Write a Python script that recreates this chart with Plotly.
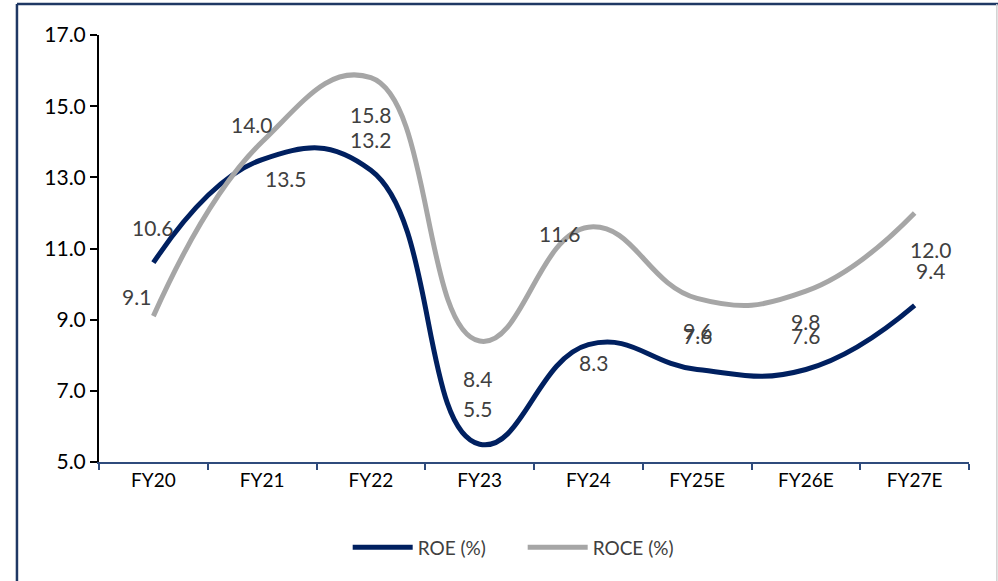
import plotly.graph_objects as go

categories = ["FY20", "FY21", "FY22", "FY23", "FY24", "FY25E", "FY26E", "FY27E"]
roe = [10.6, 13.5, 13.2, 5.5, 8.3, 7.6, 7.6, 9.4]
roce = [9.1, 14.0, 15.8, 8.4, 11.6, 9.6, 9.8, 12.0]
y_ticks = [5.0, 7.0, 9.0, 11.0, 13.0, 15.0, 17.0]

NAVY = "#002060"
GREY = "#A6A6A6"
LABEL_COLOR = "#404040"
FONT = "Lato"

# label offsets (px) for data labels, as placed in the reference
roce_off = [(-17, 20), (-10, 17), (0, -37), (-2, -37), (-28, -6), (0, -32), (0, -30), (16, -37)]
roe_off = [(0, 35), (24, -19), (0, 31), (-2, 36), (5, -18), (0, 34), (0, 34), (16, 35)]

fig = go.Figure()
fig.add_trace(go.Scatter(x=categories, y=roe, mode="lines", name="ROE (%)",
                         line=dict(color=NAVY, width=5, shape="spline", smoothing=1.3)))
fig.add_trace(go.Scatter(x=categories, y=roce, mode="lines", name="ROCE (%)",
                         line=dict(color=GREY, width=5, shape="spline", smoothing=1.3)))

annotations = []
for vals, offs in ((roce, roce_off), (roe, roe_off)):
    for c, v, (dx, dy) in zip(categories, vals, offs):
        annotations.append(dict(x=c, y=v, text=f"{v:.1f}", showarrow=False,
                                xshift=dx, yshift=dy,
                                font=dict(family=FONT, size=21, color=LABEL_COLOR)))

fig.update_layout(
    width=998, height=581,
    margin=dict(l=99, r=29, t=35, b=119),
    paper_bgcolor="white", plot_bgcolor="white",
    font=dict(family=FONT, size=17, color="black"),
    annotations=annotations,
    showlegend=True,
    legend=dict(orientation="h", x=0.487, xanchor="center", y=-0.2, yanchor="middle",
                font=dict(family=FONT, size=19, color=LABEL_COLOR), traceorder="normal",
                itemwidth=60, entrywidth=100),
    xaxis=dict(type="category", range=[-0.5, 7.5], showgrid=False, showline=True,
               linecolor="#2F4B7C", linewidth=2, ticks="outside", tickson="boundaries",
               ticklen=6, tickcolor="#2F4B7C", tickwidth=2,
               tickfont=dict(family=FONT, size=19, color="black")),
    yaxis=dict(range=[5, 17], tickvals=y_ticks, ticktext=[f"{t:.1f}" for t in y_ticks],
               showgrid=False, showline=True, linecolor="black", linewidth=2,
               ticks="outside", ticklen=7, tickcolor="black", tickwidth=2,
               tickfont=dict(family=FONT, size=21, color="black"), zeroline=False),
    shapes=[
        dict(type="line", xref="paper", yref="paper", x0=-0.0943, x1=-0.0943, y0=1.0726, y1=-0.32,
             line=dict(color="#1F3864", width=2.5)),
        dict(type="line", xref="paper", yref="paper", x0=-0.0943, x1=1.034, y0=1.0726, y1=1.0726,
             line=dict(color="#1F3864", width=2.5)),
        dict(type="line", xref="paper", yref="paper", x0=1.032, x1=1.032, y0=1.0726, y1=-0.32,
             line=dict(color="#D0D0D0", width=1.5)),
    ],
)

fig.write_html("out.html")
